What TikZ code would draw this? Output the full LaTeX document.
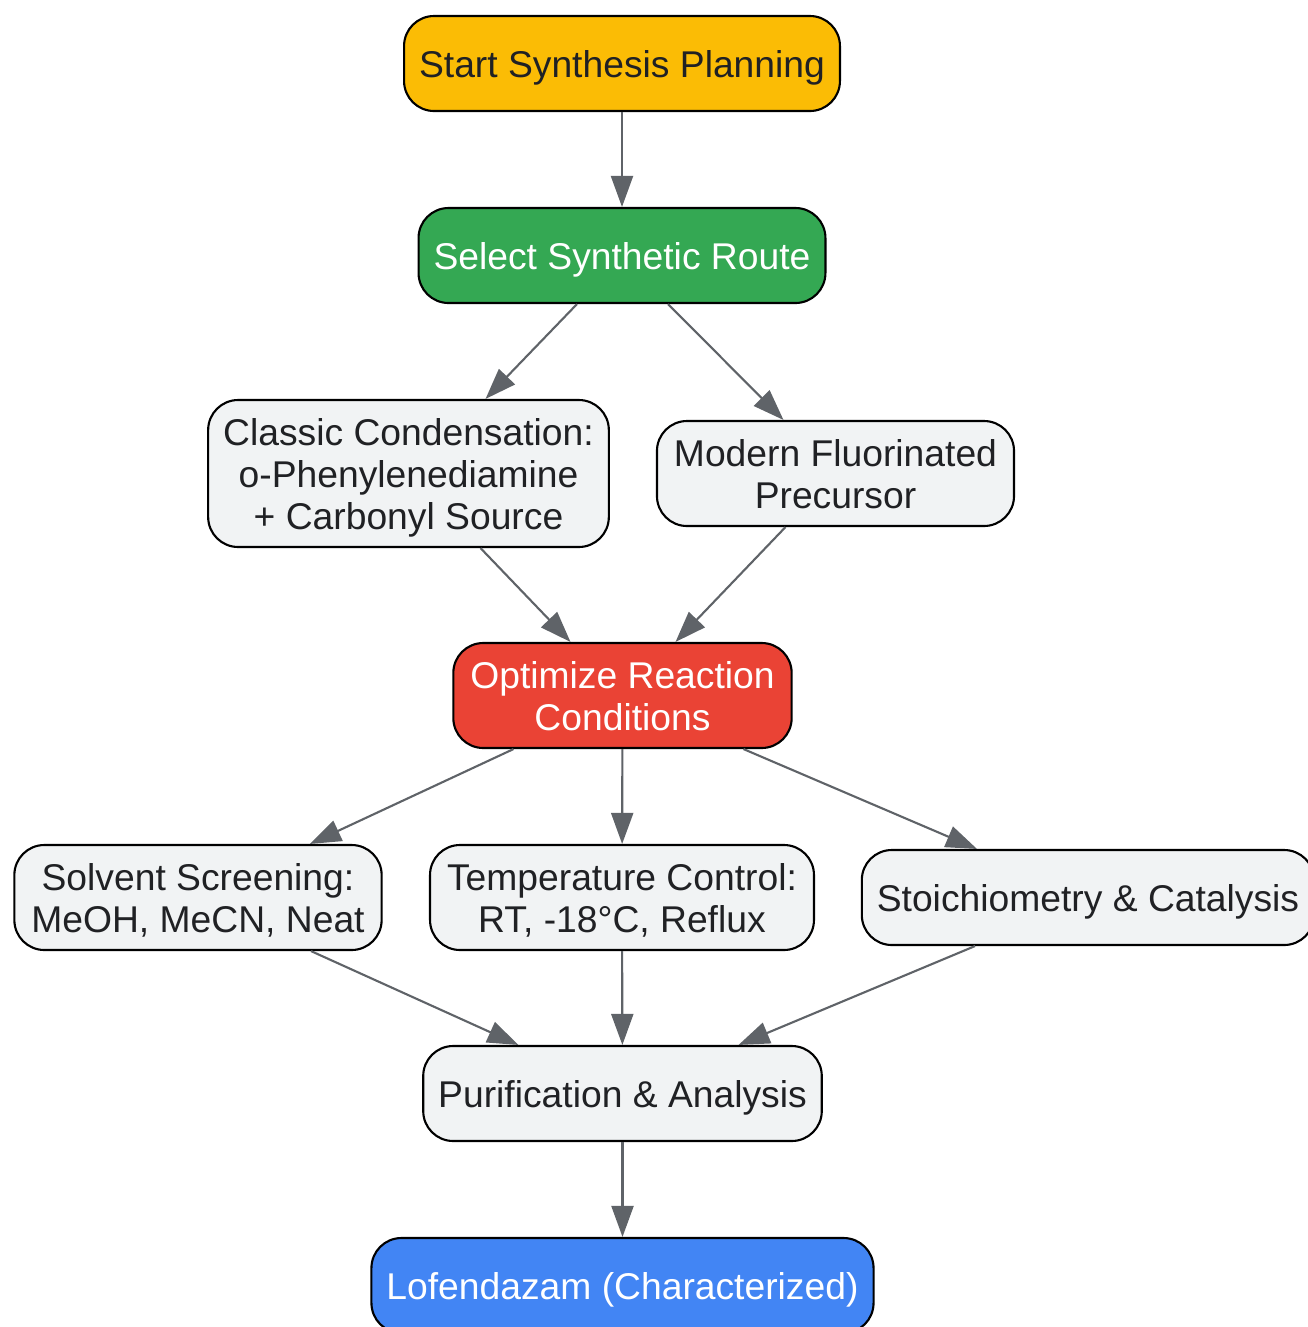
\documentclass[tikz,border=0pt]{standalone}
\usepackage{fontspec}
\setmainfont{Liberation Sans}
\usetikzlibrary{arrows.meta}
\definecolor{startyellow}{HTML}{FBBC05}
\definecolor{routegreen}{HTML}{34A853}
\definecolor{optred}{HTML}{EA4335}
\definecolor{endblue}{HTML}{4285F4}
\definecolor{stepgray}{HTML}{F1F3F4}
\definecolor{arrowgray}{HTML}{5F6368}
\definecolor{textdark}{HTML}{202124}
\begin{document}
\begin{tikzpicture}[
        box/.style={draw=black, line width=0.6pt, rounded corners=0.3cm, align=center,
            inner xsep=0.15cm, inner ysep=0pt, text=textdark, text depth=0pt,
            font=\fontsize{10.6pt}{11.95pt}\selectfont, minimum height=0.95cm},
        graybox/.style={box, fill=stepgray},
        twoline/.style={minimum height=1.05cm, inner xsep=0.17cm},
        link/.style={draw=arrowgray, line width=0.6pt, -{Triangle[length=0.31cm, width=0.22cm]}}
    ]
                \useasboundingbox (0,0) rectangle (13.08,-13.27);
                \node [box, fill=startyellow] (start) at (6.22,-0.635) {Start Synthesis Planning};
                \node [box, fill=routegreen, text=white] (route) at (6.22,-2.555) {Select Synthetic Route};
                \node [graybox, minimum height=1.47cm] (classic) at (4.085,-4.735) {Classic Condensation:\\o-Phenylenediamine\\+ Carbonyl Source};
                \node [graybox, twoline] (modern) at (8.355,-4.735) {Modern Fluorinated\\Precursor};
                \node [box, twoline, fill=optred, text=white] (optimize) at (6.225,-6.955) {Optimize Reaction\\Conditions};
                \node [graybox, twoline] (solvent) at (1.98,-8.975) {Solvent Screening:\\MeOH, MeCN, Neat};
                \node [graybox, twoline] (temp) at (6.22,-8.975) {Temperature Control:\\RT, -18°C, Reflux};
                \node [graybox] (stoich) at (10.88,-8.975) {Stoichiometry \& Catalysis};
                \node [graybox] (purify) at (6.225,-10.935) {Purification \& Analysis};
                \node [box, fill=endblue, text=white] (product) at (6.225,-12.855) {Lofendazam (Characterized)};
                \draw [link] (start) -- (route);
                \draw [link] ([xshift=-0.45cm]route.south) -- ([xshift=0.77cm]classic.north);
                \draw [link] ([xshift=0.46cm]route.south) -- ([xshift=-0.52cm]modern.north);
                \draw [link] ([xshift=0.72cm]classic.south) -- ([xshift=-0.52cm]optimize.north);
                \draw [link] ([xshift=-0.50cm]modern.south) -- ([xshift=0.53cm]optimize.north);
                \draw [link] ([xshift=-1.09cm]optimize.south) -- ([xshift=1.12cm]solvent.north);
                \draw [link] (optimize) -- (temp);
                \draw [link] ([xshift=1.21cm]optimize.south) -- ([xshift=-1.11cm]stoich.north);
                \draw [link] ([xshift=1.13cm]solvent.south) -- ([xshift=-1.04cm]purify.north);
                \draw [link] (temp) -- (purify);
                \draw [link] ([xshift=-1.13cm]stoich.south) -- ([xshift=1.16cm]purify.north);
                \draw [link] (purify) -- (product);
            \end{tikzpicture}
\end{document}
